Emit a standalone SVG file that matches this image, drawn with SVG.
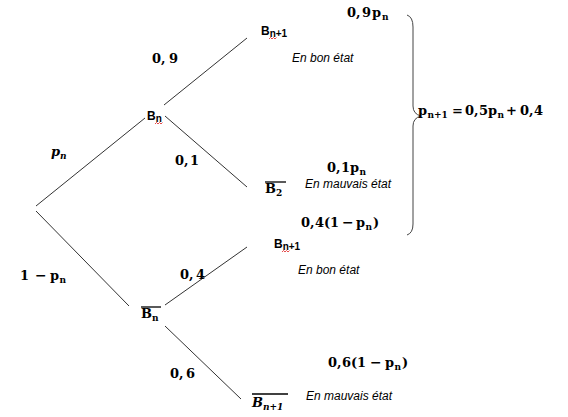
<svg xmlns="http://www.w3.org/2000/svg" width="568" height="417" viewBox="0 0 568 417">
<style>
.m{font-family:"DejaVu Serif","Liberation Serif",serif;font-weight:bold;font-size:13px;fill:#000}
.mi{font-family:"DejaVu Serif","Liberation Serif",serif;font-weight:bold;font-style:italic;font-size:13px;fill:#000}
.s{font-family:"Liberation Sans",Arial,sans-serif;font-weight:bold;font-size:12px;fill:#000}
.e{font-family:"Liberation Sans",Arial,sans-serif;font-style:italic;font-size:12px;fill:#000}
.sub{font-size:9px}
.ss{font-size:10px}
.mn{font-size:14px}
.l{stroke:#333;stroke-width:1;fill:none}
.ov{stroke:#000;stroke-width:1.3}
.sq{stroke:#e02020;stroke-width:0.8;fill:none}
</style>
<rect width="568" height="417" fill="#fff"/>
<g id="connectors">
<line class="l" x1="36" y1="206" x2="145" y2="118"/>
<line class="l" x1="36" y1="211" x2="129" y2="306"/>
<line class="l" x1="164" y1="105" x2="247" y2="38"/>
<line class="l" x1="165" y1="116" x2="247" y2="187"/>
<line class="l" x1="165" y1="305" x2="247" y2="247"/>
<line class="l" x1="165" y1="326" x2="241" y2="399"/>
</g>
<g id="edge-labels">
<text class="mi" x="51" y="156">p<tspan class="sub" x="60" dy="3">n</tspan></text>
<text class="m" x="20" y="280">1<tspan class="mn" x="35">−</tspan><tspan x="50">p</tspan><tspan class="sub" x="59.5" dy="3">n</tspan></text>
<text class="m" x="152" y="63">0,<tspan x="169">9</tspan></text>
<text class="m" x="175" y="165">0,<tspan x="190">1</tspan></text>
<text class="m" x="180" y="279">0,<tspan x="196">4</tspan></text>
<text class="m" x="170" y="378">0,<tspan x="186">6</tspan></text>
</g>
<g id="node-Bn">
<text class="s" x="147" y="120">B<tspan class="ss" dy="2">n</tspan></text>
<path class="sq" d="M155,124 l1.5,-1.5 l1.5,1.5 l1.5,-1.5 l1.5,1.5 l1.5,-1.5"/>
</g>
<g id="node-Bnbar">
<line class="ov" x1="141" y1="307" x2="161" y2="307"/>
<text class="m" x="141" y="318">B<tspan class="sub" x="152" dy="3">n</tspan></text>
</g>
<g id="node-Bn1-top">
<text class="s" x="261" y="35">B<tspan class="ss" dy="2">n+1</tspan></text>
<path class="sq" d="M269,39 l1.5,-1.5 l1.5,1.5 l1.5,-1.5 l1.5,1.5 l1.5,-1.5"/>
<text class="e" x="292" y="62">En bon état</text>
<text class="m" x="347" y="17">0<tspan x="356">,</tspan><tspan x="362">9</tspan><tspan x="372">p</tspan><tspan class="sub" x="382" dy="3">n</tspan></text>
</g>
<g id="node-B2bar">
<line class="ov" x1="265" y1="182" x2="286" y2="182"/>
<text class="m" x="265" y="193">B<tspan class="sub" x="276" dy="3">2</tspan></text>
<text class="e" x="305" y="188">En mauvais état</text>
<text class="m" x="327" y="172">0<tspan x="336">,</tspan><tspan x="341">1</tspan><tspan x="350">p</tspan><tspan class="sub" x="359.5" dy="3">n</tspan></text>
</g>
<g id="node-Bn1-mid">
<text class="s" x="274" y="248">B<tspan class="ss" dy="2">n+1</tspan></text>
<path class="sq" d="M282,252 l1.5,-1.5 l1.5,1.5 l1.5,-1.5 l1.5,1.5 l1.5,-1.5"/>
<text class="e" x="298" y="274">En bon état</text>
<text class="m" x="301" y="227">0<tspan x="310">,</tspan><tspan x="315">4</tspan><tspan x="324">(</tspan><tspan x="330">1</tspan><tspan class="mn" x="342">−</tspan><tspan x="356">p</tspan><tspan class="sub" x="365.5" dy="3">n</tspan><tspan x="373" dy="-3">)</tspan></text>
</g>
<g id="node-Bn1bar">
<line class="ov" x1="252" y1="394" x2="288" y2="394"/>
<text class="mi" x="252" y="407">B<tspan class="sub" x="263" dy="3">n+1</tspan></text>
<text class="e" x="306" y="400">En mauvais état</text>
<text class="m" x="328" y="367">0<tspan x="337">,</tspan><tspan x="342">6</tspan><tspan x="351">(</tspan><tspan x="357">1</tspan><tspan class="mn" x="370">−</tspan><tspan x="385">p</tspan><tspan class="sub" x="394.5" dy="3">n</tspan><tspan x="402" dy="-3">)</tspan></text>
</g>
<g id="brace">
<path d="M407,15 Q413,17 413,27 L413,106 Q413,114 421,116 Q413,118 413,126 L413,224 Q413,233 407,235" fill="none" stroke="#444" stroke-width="1"/>
<text class="m" x="418" y="115">p<tspan class="sub" x="427.5" dy="3">n+1</tspan><tspan x="452" dy="-3">=</tspan><tspan x="465">0</tspan><tspan x="474">,</tspan><tspan x="479">5</tspan><tspan x="488">p</tspan><tspan class="sub" x="497.5" dy="3">n</tspan><tspan x="506" dy="-3">+</tspan><tspan x="520">0</tspan><tspan x="529">,</tspan><tspan x="534">4</tspan></text>
</g>
</svg>
